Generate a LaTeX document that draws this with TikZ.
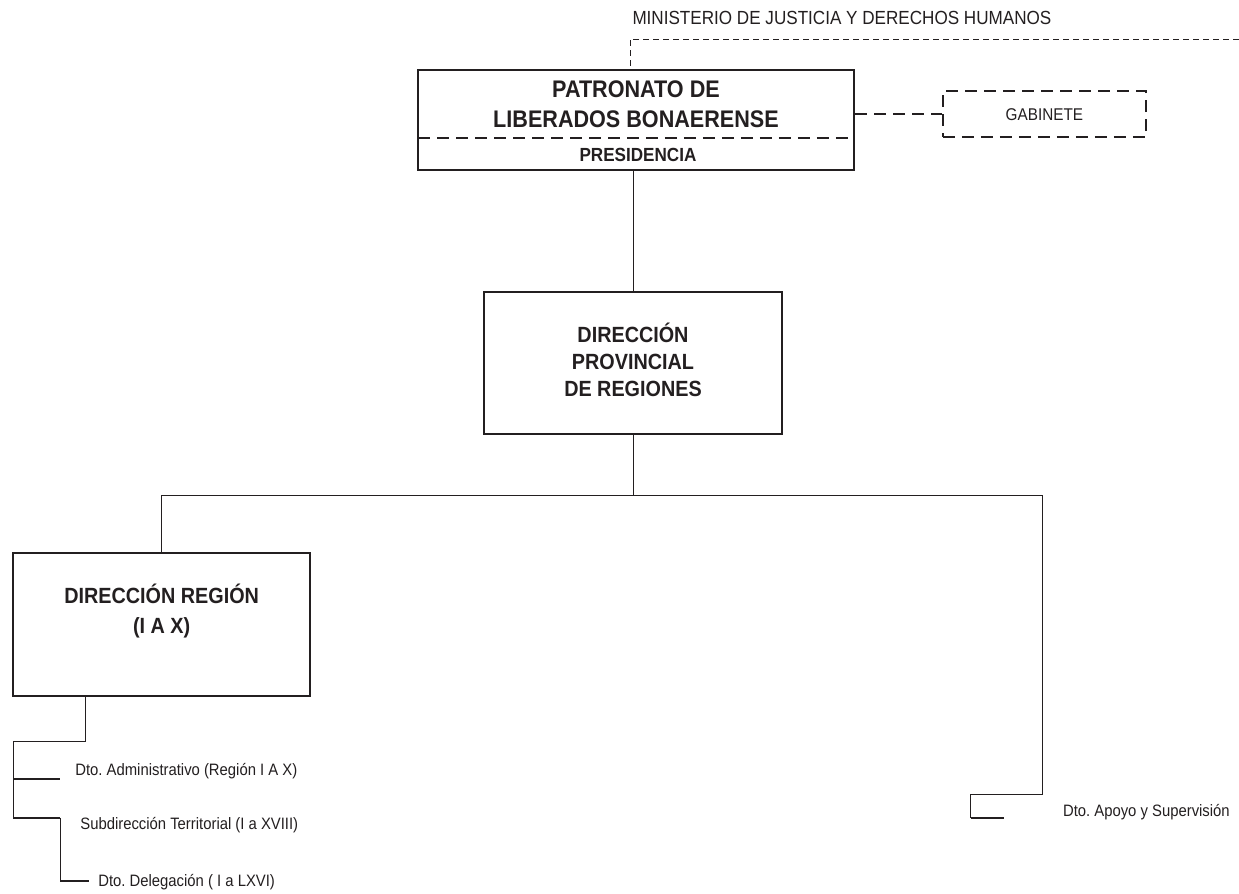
\documentclass[tikz,border=0pt]{standalone}
\usepackage{fontspec}
\setmainfont{Liberation Sans}[FakeStretch=0.9]
\frenchspacing
\definecolor{ink}{HTML}{231F20}
\begin{document}
\begin{tikzpicture}[x=1pt,y=-1pt, every node/.style={text=ink}, every path/.style={draw=ink},
  box/.style={draw=ink, line width=2.5pt, inner sep=0pt},
  link/.style={line width=1pt},
  tick/.style={line width=2.2pt},
  thindash/.style={line width=1pt, dash pattern=on 6pt off 4pt},
  thickdash/.style={line width=2.2pt, dash pattern=on 12pt off 7pt},
  lbl/.style={inner sep=0pt, anchor=base west, font=\fontsize{16.5}{18}\selectfont},
  btxt/.style={inner sep=0pt, align=center, font=\bfseries\fontsize{22}{27}\selectfont}]
\useasboundingbox (0,0) rectangle (1239,893);
\fill[white] (0,0) rectangle (1239,893);

% top: ministerio
\node[inner sep=0pt, anchor=base, font=\fontsize{19}{20}\selectfont] (min) at (842,24) {MINISTERIO DE JUSTICIA Y DERECHOS HUMANOS};
\coordinate (mc) at (630,39);
\coordinate (me) at (1239,39);

% patronato
\node[box, minimum width=436pt, minimum height=100pt] (pat) at (636,120) {};
\node[inner sep=0pt, align=center, font=\bfseries\fontsize{24}{30}\selectfont] (patt) at (636,104.4) {PATRONATO DE\\LIBERADOS BONAERENSE};
\node[inner sep=0pt, anchor=base, font=\bfseries\fontsize{19}{20}\selectfont] (pres) at (638,161) {PRESIDENCIA};
\coordinate (sepl) at (418,138);
\coordinate (sepr) at (854,138);
\draw[thickdash] (sepl) -- (sepr);

\draw[thindash] (me) -- (mc) -- (mc |- pat.north);

% gabinete
\node[draw=ink, thickdash, minimum width=203pt, minimum height=46pt, inner sep=0pt,
      font=\fontsize{17}{18}\selectfont] (gab) at (1044.5,114) {GABINETE};
\draw[thickdash] (pat.east |- gab) -- (gab.west);

% direccion provincial
\node[box, minimum width=298pt, minimum height=142pt] (dp) at (633,363) {};
\node[btxt] (dpt) at (633,359.6) {DIRECCIÓN\\PROVINCIAL\\DE REGIONES};
\draw[link] (dp.north |- pat.south) -- (dp.north);

% main horizontal
\coordinate (hj) at (633,495);
\coordinate (rj) at (1043,495);

% direccion region
\node[box, minimum width=297pt, minimum height=143pt] (dr) at (161.5,624.5) {};
\node[inner sep=0pt, align=center, font=\bfseries\fontsize{22}{30}\selectfont] (drt) at (161.5,611) {DIRECCIÓN REGIÓN\\(I A X)};

\draw[link] (dp.south) -- (hj);
\draw[link] (dr.north |- hj) -- (rj);
\draw[link] (dr.north |- hj) -- (dr.north);

% left sub-branches
\coordinate (lx) at (85,0);
\coordinate (l1) at (85,742);
\coordinate (l2) at (13,742);
\coordinate (l3) at (13,818);
\coordinate (a1) at (13,779);
\coordinate (a2) at (60,779);
\coordinate (s2) at (60,818);
\coordinate (d1) at (60,881);
\coordinate (d2) at (89,881);
\draw[link] (dr.south -| lx) -- (l1) -- (l2) -- (l3);
\draw[tick] (a1) -- (a2);
\draw[tick] (l3) -- (s2);
\draw[link] (s2) -- (d1);
\draw[tick] (d1) -- (d2);
\node[lbl] (adm) at (75,776) {Dto. Administrativo (Región I A X)};
\node[lbl] (sub) at (80,830) {Subdirección Territorial (I a XVIII)};
\node[lbl] (del) at (98,887) {Dto. Delegación ( I a LXVI)};

% right branch
\coordinate (r1) at (1043,795);
\coordinate (r2) at (971,795);
\coordinate (r3) at (971,818);
\coordinate (r4) at (1004,818);
\draw[link] (rj) -- (r1) -- (r2) -- (r3);
\draw[tick] (r3) -- (r4);
\node[lbl] (apo) at (1063,817) {Dto. Apoyo y Supervisión};
\end{tikzpicture}
\end{document}
